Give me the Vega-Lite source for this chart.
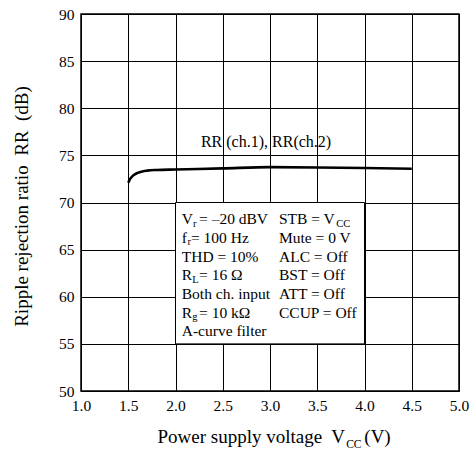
{
  "$schema": "https://vega.github.io/schema/vega-lite/v6.json",
  "width": 378,
  "height": 377,
  "autosize": {"type": "none"},
  "padding": {"left": 81, "top": 14, "right": 11, "bottom": 64},
  "background": "white",
  "config": {
    "view": {"stroke": "black", "strokeWidth": 1.5},
    "font": "Liberation Serif",
    "text": {"font": "Liberation Serif", "color": "black"},
    "axis": {
      "labelFont": "Liberation Serif",
      "labelFontSize": 15.5,
      "labelColor": "black",
      "titleFont": "Liberation Serif",
      "titleFontSize": 19,
      "titleFontWeight": "normal",
      "titleColor": "black",
      "grid": true,
      "gridColor": "black",
      "gridWidth": 1,
      "gridOpacity": 1,
      "domain": false,
      "ticks": false,
      "labelPadding": 7,
      "labelFlush": false,
      "labelOverlap": false,
      "labelBound": false
    }
  },
  "layer": [
    {
      "data": {"values": [
        {"v": 1.5, "rr": 72.1},
        {"v": 1.52, "rr": 72.5},
        {"v": 1.55, "rr": 72.85},
        {"v": 1.6, "rr": 73.15},
        {"v": 1.65, "rr": 73.3},
        {"v": 1.7, "rr": 73.38},
        {"v": 1.8, "rr": 73.45},
        {"v": 2.0, "rr": 73.5},
        {"v": 2.5, "rr": 73.62},
        {"v": 3.0, "rr": 73.75},
        {"v": 3.5, "rr": 73.72},
        {"v": 4.0, "rr": 73.66},
        {"v": 4.5, "rr": 73.58}
      ]},
      "mark": {"type": "line", "color": "black", "strokeWidth": 2.6, "interpolate": "monotone"},
      "encoding": {
        "x": {"field": "v", "type": "quantitative",
          "scale": {"domain": [1, 5], "nice": false, "zero": false},
          "axis": {"values": [1, 1.5, 2, 2.5, 3, 3.5, 4, 4.5, 5], "format": ".1f", "title": null}},
        "y": {"field": "rr", "type": "quantitative",
          "scale": {"domain": [50, 90], "nice": false, "zero": false},
          "axis": {"values": [50, 55, 60, 65, 70, 75, 80, 85, 90], "format": "d",
            "title": "Ripple rejection ratio\u00a0 RR\u00a0 (dB)", "titlePadding": 27, "titleY": 192}}
      }
    },
    {
      "data": {"values": [{}]},
      "mark": {"type": "rect", "fill": "white", "stroke": "black", "strokeWidth": 1},
      "encoding": {
        "x": {"datum": 2.0, "type": "quantitative"},
        "x2": {"datum": 4.0},
        "y": {"datum": 55, "type": "quantitative"},
        "y2": {"datum": 70}
      }
    },
    {
      "data": {"values": [{}]},
      "mark": {"type": "text", "text": "RR (ch.1), RR(ch.2)", "align": "center", "baseline": "alphabetic", "fontSize": 16},
      "encoding": {"x": {"datum": 2.958, "type": "quantitative"}, "y": {"datum": 75.92, "type": "quantitative"}}
    },
    {
      "data": {"values": [{}]},
      "mark": {"type": "text", "text": ["V", "f", "THD = 10%", "R", "Both ch. input", "R", "A-curve filter"],
        "lineHeight": 18.7, "align": "left", "baseline": "top", "fontSize": 15.5},
      "encoding": {"x": {"datum": 2.066, "type": "quantitative"}, "y": {"datum": 68.96, "type": "quantitative"}}
    },
    {
      "data": {"values": [{}]},
      "mark": {"type": "text", "text": "= \u201320 dBV", "align": "left", "baseline": "alphabetic", "fontSize": 15.5},
      "encoding": {"x": {"datum": 2.249, "type": "quantitative"}, "y": {"datum": 67.69, "type": "quantitative"}}
    },
    {
      "data": {"values": [{}]},
      "mark": {"type": "text", "text": "= 100 Hz", "align": "left", "baseline": "alphabetic", "fontSize": 15.5},
      "encoding": {"x": {"datum": 2.164, "type": "quantitative"}, "y": {"datum": 65.71, "type": "quantitative"}}
    },
    {
      "data": {"values": [{}]},
      "mark": {"type": "text", "text": "= 16 \u03a9", "align": "left", "baseline": "alphabetic", "fontSize": 15.5},
      "encoding": {"x": {"datum": 2.249, "type": "quantitative"}, "y": {"datum": 61.74, "type": "quantitative"}}
    },
    {
      "data": {"values": [{}]},
      "mark": {"type": "text", "text": "= 10 k\u03a9", "align": "left", "baseline": "alphabetic", "fontSize": 15.5},
      "encoding": {"x": {"datum": 2.249, "type": "quantitative"}, "y": {"datum": 57.77, "type": "quantitative"}}
    },
    {
      "data": {"values": [{}]},
      "mark": {"type": "text", "text": ["STB = V", "Mute = 0 V", "ALC = Off", "BST = Off", "ATT = Off", "CCUP = Off"],
        "lineHeight": 18.7, "align": "left", "baseline": "top", "fontSize": 15.5},
      "encoding": {"x": {"datum": 3.095, "type": "quantitative"}, "y": {"datum": 68.96, "type": "quantitative"}}
    },
    {
      "data": {"values": [{}]},
      "mark": {"type": "text", "text": "r", "align": "left", "baseline": "alphabetic", "fontSize": 10.5},
      "encoding": {"x": {"datum": 2.185, "type": "quantitative"}, "y": {"datum": 67.44, "type": "quantitative"}}
    },
    {
      "data": {"values": [{}]},
      "mark": {"type": "text", "text": "r", "align": "left", "baseline": "alphabetic", "fontSize": 10.5},
      "encoding": {"x": {"datum": 2.126, "type": "quantitative"}, "y": {"datum": 65.46, "type": "quantitative"}}
    },
    {
      "data": {"values": [{}]},
      "mark": {"type": "text", "text": "L", "align": "left", "baseline": "alphabetic", "fontSize": 10.5},
      "encoding": {"x": {"datum": 2.177, "type": "quantitative"}, "y": {"datum": 61.49, "type": "quantitative"}}
    },
    {
      "data": {"values": [{}]},
      "mark": {"type": "text", "text": "g", "align": "left", "baseline": "alphabetic", "fontSize": 10.5},
      "encoding": {"x": {"datum": 2.177, "type": "quantitative"}, "y": {"datum": 57.52, "type": "quantitative"}}
    },
    {
      "data": {"values": [{}]},
      "mark": {"type": "text", "text": "CC", "align": "left", "baseline": "alphabetic", "fontSize": 10.5},
      "encoding": {"x": {"datum": 3.7, "type": "quantitative"}, "y": {"datum": 67.44, "type": "quantitative"}}
    },
    {
      "data": {"values": [{}]},
      "mark": {"type": "text", "text": "Power supply voltage\u00a0 V", "align": "right", "baseline": "alphabetic", "fontSize": 19},
      "encoding": {"x": {"datum": 3.794, "type": "quantitative"}, "y": {"datum": 44.45, "type": "quantitative"}}
    },
    {
      "data": {"values": [{}]},
      "mark": {"type": "text", "text": "CC", "align": "left", "baseline": "alphabetic", "fontSize": 11.5},
      "encoding": {"x": {"datum": 3.806, "type": "quantitative"}, "y": {"datum": 43.95, "type": "quantitative"}}
    },
    {
      "data": {"values": [{}]},
      "mark": {"type": "text", "text": "(V)", "align": "left", "baseline": "alphabetic", "fontSize": 19},
      "encoding": {"x": {"datum": 3.998, "type": "quantitative"}, "y": {"datum": 44.45, "type": "quantitative"}}
    }
  ]
}
